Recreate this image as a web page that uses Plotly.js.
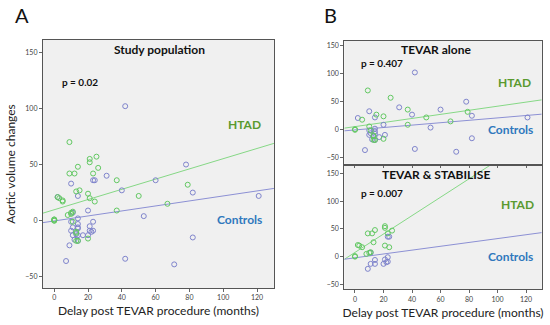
<!DOCTYPE html>
<html>
<head>
<meta charset="utf-8">
<script src="https://cdn.plot.ly/plotly-3.0.1.min.js"></script>
<style>html,body{margin:0;padding:0;background:#fff;}#chart{width:550px;height:325px;}</style>
</head>
<body>
<div id="chart"></div>
<script>
// ---- Data: TEVAR alone (panel B top) ----
var aloneHtadX = [0, 0, 5, 9, 10, 11, 13, 13, 13, 14, 15, 20, 20, 25, 37, 37, 50, 67, 79];
var aloneHtadY = [0, 1, 18, 70, 6, -1, -10, -11, -18, -18, 27, 24, -16, 57, 36, 9, 22, 15, 32];
var aloneCtrlX = [2, 7, 10, 10, 11, 10, 12, 13, 14, 14, 14, 14, 14, 17, 20, 21, 31, 40, 42, 42, 53, 60, 71, 78, 82, 82, 121];
var aloneCtrlY = [21, -36, 33, -1, -6, -9, -17, -12, 22, 2, -3, -7, -18, -13, 9, -9, 40, 27, 102, -34, 4, 36, -39, 50, 25, -15, 22];
// ---- Data: TEVAR & STABILISE (panel B bottom) ----
var stabHtadX = [0, 0, 2, 3, 5, 8, 9, 10, 11, 12, 13, 14, 21, 21, 21, 23, 24, 26];
var stabHtadY = [0, 1, 21, 20, 17, 5, 42, 7, 8, 42, 26, 48, 55, 52, 20, 42, 17, 47];
var stabCtrlX = [23, 24, 11, 23, 21, 14, 11, 14, 20, 22, 23, 9];
var stabCtrlY = [36, 36, 7, -1, -5, -6, -13, -13, -13, -10, -9, -22];
// ---- Regression fits: [intercept, slope] ----
var fitStudyHtad = [9.7, 0.455];
var fitStudyCtrl = [-0.3, 0.223];
var fitAloneHtad = [5.7, 0.363];
var fitAloneCtrl = [-0.2, 0.214];
var fitStabHtad = [7.7, 1.659];
var fitStabCtrl = [-2.1, 0.347];
var panelTitles = ['Study population', 'TEVAR alone', 'TEVAR & STABILISE'];
var pValues = ['p = 0.02', 'p = 0.407', 'p = 0.007'];
var groupNames = ['HTAD', 'Controls'];
var xTickVals = [0, 20, 40, 60, 80, 100, 120];
var yTickVals = [-50, 0, 50, 100, 150];

// Study population = both groups combined
var studyHtadX = aloneHtadX.concat(stabHtadX), studyHtadY = aloneHtadY.concat(stabHtadY);
var studyCtrlX = aloneCtrlX.concat(stabCtrlX), studyCtrlY = aloneCtrlY.concat(stabCtrlY);

var GREEN_PT = '#62c862', BLUE_PT = '#7f84cc';
var GREEN_LN = '#86d886', BLUE_LN = '#8c90d4';
var GREEN_TX = '#5a9a2f', BLUE_TX = '#2f78bd';

var xRangeA = [-6.7, 130], xRangeB = [-7.5, 131];

function pts(x, y, color, xa, ya) {
  return {x: x, y: y, xaxis: xa, yaxis: ya, type: 'scatter', mode: 'markers', showlegend: false,
    marker: {symbol: 'circle-open', size: 5, color: color, line: {width: 1, color: color}}, hoverinfo: 'x+y'};
}
function fit(c, xr, color, xa, ya) {
  return {x: [xr[0], xr[1]], y: [c[0] + c[1] * xr[0], c[0] + c[1] * xr[1]], xaxis: xa, yaxis: ya,
    type: 'scatter', mode: 'lines', showlegend: false, line: {color: color, width: 1}, hoverinfo: 'skip'};
}

var data = [
  fit(fitStudyHtad, xRangeA, GREEN_LN, 'x', 'y'),
  fit(fitStudyCtrl, xRangeA, BLUE_LN, 'x', 'y'),
  pts(studyCtrlX, studyCtrlY, BLUE_PT, 'x', 'y'),
  pts(studyHtadX, studyHtadY, GREEN_PT, 'x', 'y'),
  fit(fitAloneHtad, xRangeB, GREEN_LN, 'x2', 'y2'),
  fit(fitAloneCtrl, xRangeB, BLUE_LN, 'x2', 'y2'),
  pts(aloneCtrlX, aloneCtrlY, BLUE_PT, 'x2', 'y2'),
  pts(aloneHtadX, aloneHtadY, GREEN_PT, 'x2', 'y2'),
  fit(fitStabHtad, xRangeB, GREEN_LN, 'x3', 'y3'),
  fit(fitStabCtrl, xRangeB, BLUE_LN, 'x3', 'y3'),
  pts(stabCtrlX, stabCtrlY, BLUE_PT, 'x3', 'y3'),
  pts(stabHtadX, stabHtadY, GREEN_PT, 'x3', 'y3')
];

var tickFont = {family: 'Lato, Arial, sans-serif', size: 7, color: '#444'};
function xax(dom, range, anchor, show) {
  return {domain: dom, range: range, anchor: anchor, tickvals: xTickVals, showticklabels: show,
    ticks: 'outside', ticklen: 3, tickcolor: '#666', tickfont: tickFont, showgrid: false, zeroline: false,
    showline: true, mirror: true, linecolor: '#555', linewidth: 1};
}
function yax(dom, range, anchor) {
  return {domain: dom, range: range, anchor: anchor, tickvals: yTickVals,
    ticks: 'outside', ticklen: 3, tickcolor: '#666', tickfont: tickFont, showgrid: false, zeroline: false,
    showline: true, mirror: true, linecolor: '#555', linewidth: 1};
}
var titleFont = {family: 'Lato, Arial, sans-serif', size: 12, color: '#222'};

var layout = {
  width: 550, height: 325, margin: {l: 0, r: 0, t: 0, b: 0},
  paper_bgcolor: '#ffffff', plot_bgcolor: '#f0f0f0', showlegend: false,
  font: {family: 'Lato, Arial, sans-serif'},
  xaxis: Object.assign(xax([0.078, 0.498], xRangeA, 'y', true),
    {title: {text: 'Delay post TEVAR procedure (months)', font: titleFont, standoff: 6}}),
  yaxis: Object.assign(yax([0.114, 0.877], [-60, 161], 'x'),
    {title: {text: 'Aortic volume changes', font: titleFont, standoff: 7}}),
  xaxis2: xax([0.626, 0.985], xRangeB, 'y2', false),
  yaxis2: yax([0.496, 0.874], [-60.4, 158], 'x2'),
  xaxis3: Object.assign(xax([0.626, 0.985], xRangeB, 'y3', true),
    {title: {text: 'Delay post TEVAR procedure (months)', font: titleFont, standoff: 6}}),
  yaxis3: yax([0.110, 0.490], [-58.8, 164], 'x3'),
  annotations: []
};

function ann(text, x, y, size, color, bold, xanchor) {
  layout.annotations.push({text: bold ? '<b>' + text + '</b>' : text, x: x / 550, y: 1 - y / 325,
    xref: 'paper', yref: 'paper', xanchor: xanchor || 'center', yanchor: 'middle', showarrow: false,
    font: {family: 'Lato, Arial, sans-serif', size: size, color: color}});
}
ann('A', 22, 15, 20, '#111', false);
ann('B', 330, 15, 20, '#111', false);
ann(panelTitles[0], 159, 49, 12, '#111', true);
ann(panelTitles[1], 436.5, 49, 12, '#111', true);
ann(panelTitles[2], 436, 174, 12, '#111', true);
ann(pValues[0], 60, 82, 10, '#111', true, 'left');
ann(pValues[1], 359, 63, 10, '#111', true, 'left');
ann(pValues[2], 359, 193, 10, '#111', true, 'left');
ann(groupNames[0], 244, 125, 12, GREEN_TX, true);
ann(groupNames[1], 239.5, 219, 12, BLUE_TX, true);
ann(groupNames[0], 514.5, 82, 12, GREEN_TX, true);
ann(groupNames[1], 510, 129, 12, BLUE_TX, true);
ann(groupNames[0], 517, 204, 12, GREEN_TX, true);
ann(groupNames[1], 510, 256, 12, BLUE_TX, true);

Plotly.newPlot('chart', data, layout, {staticPlot: true, displayModeBar: false});
</script>
</body>
</html>
